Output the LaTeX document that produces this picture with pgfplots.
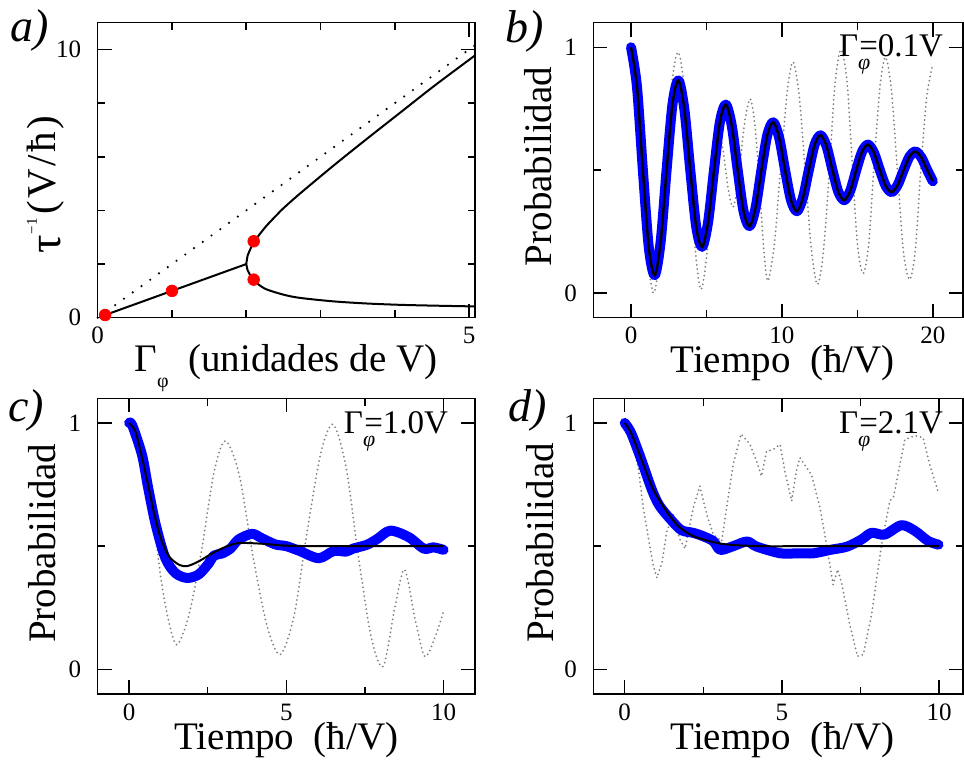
\documentclass[border=0pt]{standalone}
\usepackage{fontspec}
\setmainfont{Liberation Serif}
\usepackage{pgfplots}
\pgfplotsset{compat=1.18}

\pgfplotsset{
  panel/.style={
    scale only axis, anchor=north west, clip=false,
    axis line style={line width=0.75pt},
    tick align=inside,
    major tick length=7pt, minor tick length=3.75pt,
    every tick/.style={black, line width=0.75pt},
    tick label style={font=\fontsize{12.5}{13}\selectfont},
    /pgf/number format/assume math mode=true,
    yticklabel style={xshift=-4.7pt},
    xticklabel style={yshift=-1.3pt},
    label style={font=\fontsize{19.5}{20}\selectfont, anchor=base},
  },
  dots/.style={black!50, line width=1pt, dash pattern=on 0pt off 2.2pt, line cap=round},
  bluefat/.style={blue, line width=5pt, line cap=round, line join=round, smooth},
  thinblack/.style={black, line width=1.2pt, smooth},
}

% panel b: decaying oscillation
\pgfplotstableread{
t P
0.000 1.000
0.393 0.840
0.785 0.500
1.178 0.186
1.571 0.073
1.963 0.209
2.356 0.500
2.749 0.769
3.142 0.865
3.534 0.748
3.927 0.500
4.320 0.270
4.712 0.188
5.105 0.288
5.498 0.500
5.890 0.696
6.283 0.767
6.676 0.681
7.069 0.500
7.461 0.332
7.854 0.272
8.247 0.345
8.639 0.500
9.032 0.643
9.425 0.695
9.817 0.632
10.210 0.500
10.603 0.378
10.996 0.333
11.388 0.387
11.781 0.500
12.174 0.605
12.566 0.642
12.959 0.597
13.352 0.500
13.744 0.411
14.137 0.378
14.530 0.417
14.923 0.500
15.315 0.576
15.708 0.604
16.101 0.571
16.493 0.500
16.886 0.435
17.279 0.411
17.671 0.440
18.064 0.500
18.457 0.556
18.850 0.576
19.242 0.552
19.635 0.500
20.000 0.455
}\tabB

\pgfplotstableread{
t P
0.00 1.00
0.40 0.85
0.75 0.50
1.10 0.15
1.50 0.00
1.90 0.15
2.30 0.50
2.70 0.85
3.12 0.98
3.50 0.85
3.90 0.50
4.30 0.15
4.66 0.015
5.10 0.20
5.45 0.48
5.80 0.65
6.10 0.58
6.45 0.42
6.76 0.35
7.10 0.45
7.50 0.68
7.90 0.79
8.25 0.66
8.60 0.35
8.85 0.14
9.08 0.05
9.50 0.20
9.90 0.50
10.35 0.82
10.74 0.94
11.15 0.80
11.55 0.49
11.95 0.18
12.35 0.035
12.75 0.17
13.15 0.50
13.50 0.84
13.90 0.99
14.30 0.87
14.65 0.54
15.00 0.20
15.38 0.08
15.75 0.20
16.10 0.52
16.50 0.84
16.86 0.96
17.25 0.83
17.65 0.50
18.05 0.17
18.47 0.055
18.85 0.18
19.20 0.50
19.60 0.80
20.00 0.93
}\tabBdot

\begin{document}
\begin{tikzpicture}
\useasboundingbox (0,0) rectangle (482pt,-382.5pt);

% ---------- a) ----------
\begin{axis}[panel, at={(48.85pt,-11.35pt)}, width=188.65pt, height=147.5pt,
  xmin=0, xmax=5.08, ymin=0, ymax=11,
  xtick={0,5}, ytick={0,10}, minor x tick num=4, minor y tick num=4,
  xlabel={Γ\raisebox{-7.7pt}{\fontsize{10}{10}\selectfont φ}\ \ (unidades de V)},
  ylabel={\raisebox{-2.5pt}{\fontsize{23}{23}\selectfont τ}\kern0.3pt\raisebox{9.5pt}{\fontsize{7.5}{7.5}\selectfont −\kern0.5pt 1}\kern1.5pt{\fontsize{20.5}{21}\selectfont(\kern1.2pt V\kern1.2pt/\kern1.2pt ħ\kern1.2pt)}},
  xlabel style={at={(axis description cs:0.499,-0.183)}},
  ylabel style={at={(axis description cs:-0.111,0.45)}},
]
\addplot[black, line width=1.2pt, dash pattern=on 0pt off 5.4pt, line cap=round]
  coordinates {(0,0) (5.08,10.16)};
\addplot[black, line width=1pt] coordinates {(0.1,0.1) (2.0,2.0)};
\addplot[black, line width=1pt, line join=round, smooth] coordinates {
  (2.0,2.0) (2.02,2.33) (2.05,2.53) (2.1,2.80) (2.15,3.0) (2.2,3.18)
  (2.27,3.42) (2.4,3.8) (2.5,4.08) (2.72,4.62) (3.17,5.66) (3.62,6.66)
  (4.07,7.64) (4.52,8.62) (5.08,9.78)};
\addplot[black, line width=1pt, line join=round, smooth] coordinates {
  (2.0,2.0) (2.02,1.76) (2.05,1.60) (2.1,1.42) (2.16,1.25) (2.27,1.06)
  (2.5,0.86) (2.72,0.74) (3.17,0.61) (3.62,0.53) (4.07,0.48) (4.52,0.45)
  (5.08,0.42)};
\addplot[only marks, mark=*, mark size=2.9pt, color=red]
  coordinates {(0.1,0.1) (1.0,1.0) (2.1,2.85) (2.1,1.42)};
\end{axis}

% ---------- b) ----------
\begin{axis}[panel, at={(296.65pt,-11.35pt)}, width=184.85pt, height=147.5pt,
  xmin=-2.5, xmax=22, ymin=-0.1, ymax=1.1,
  xtick={0,10,20}, ytick={0,1}, minor x tick num=1, minor y tick num=1,
  xlabel={Tiempo\ \ (ħ/V)}, ylabel={Probabilidad},
  xlabel style={at={(axis description cs:0.512,-0.186)}},
  ylabel style={at={(axis description cs:-0.1125,0.5125)}},
]
\addplot[dots, smooth] table[x=t, y=P] {\tabBdot};
\addplot[bluefat] table[x=t, y=P] {\tabB};
\addplot[thinblack] table[x=t, y=P] {\tabB};
\node[anchor=base east, font=\fontsize{16.5}{17}\selectfont] at (rel axis cs:0.965,0.884)
  {Γ\rlap{\raisebox{-6.5pt}{\fontsize{11}{11}\selectfont\itshape φ}}\kern0.6pt=0.1V};
\end{axis}

% ---------- c) ----------
\begin{axis}[panel, at={(48.85pt,-199.15pt)}, width=188.65pt, height=147.85pt,
  xmin=-1, xmax=11, ymin=-0.1, ymax=1.1,
  xtick={0,5,10}, ytick={0,1}, minor x tick num=1, minor y tick num=1,
  xlabel={Tiempo\ \ (ħ/V)}, ylabel={Probabilidad},
  xlabel style={at={(axis description cs:0.50,-0.186)}},
  ylabel style={at={(axis description cs:-0.113,0.51)}},
]
\addplot[dots, smooth] coordinates {
  (0,1.0) (0.3,0.94) (0.63,0.76) (1.0,0.38) (1.25,0.2) (1.52,0.10) (1.9,0.22)
  (2.3,0.48) (2.7,0.8) (3.06,0.927) (3.5,0.79) (3.95,0.45) (4.4,0.17) (4.81,0.06)
  (5.25,0.22) (5.65,0.55) (6.1,0.88) (6.49,0.994) (6.9,0.82) (7.3,0.45) (7.7,0.13)
  (8.08,0.012) (8.45,0.25) (8.76,0.405) (9.1,0.2) (9.40,0.053) (9.7,0.12) (10.0,0.236)};
\addplot[bluefat] coordinates {
  (0,1.0) (0.1,0.99) (0.41,0.87) (0.6,0.74) (0.84,0.59) (1.15,0.452) (1.47,0.391)
  (1.84,0.371) (2.21,0.385) (2.53,0.43) (2.7,0.462) (2.95,0.47) (3.22,0.49)
  (3.48,0.527) (3.91,0.55) (4.22,0.532) (4.65,0.507) (5.0,0.50) (5.43,0.48)
  (6.03,0.451) (6.5,0.48) (6.9,0.478) (7.12,0.49) (7.57,0.506) (7.9,0.53)
  (8.31,0.563) (8.9,0.536) (9.37,0.49) (9.68,0.495) (10.0,0.485)};
\addplot[black, line width=1pt, smooth] coordinates {
  (0,1.0) (0.2,0.965) (0.41,0.86) (0.6,0.75) (0.8,0.63) (1.0,0.535) (1.26,0.46)
  (1.58,0.425) (1.84,0.419) (2.21,0.438) (2.74,0.478) (3.27,0.507) (3.6,0.513)
  (4.2,0.51) (5,0.502) (6,0.50) (7,0.50) (8,0.50) (9,0.50) (10,0.50)};
\node[anchor=base east, font=\fontsize{16.5}{17}\selectfont] at (rel axis cs:0.947,0.882)
  {Γ\rlap{\raisebox{-6.5pt}{\fontsize{11}{11}\selectfont\itshape φ}}\kern0.6pt=1.0V};
\end{axis}

% ---------- d) ----------
\begin{axis}[panel, at={(296.65pt,-199.15pt)}, width=184.85pt, height=147.85pt,
  xmin=-1, xmax=10.76, ymin=-0.1, ymax=1.1,
  xtick={0,5,10}, ytick={0,1}, minor x tick num=1, minor y tick num=1,
  xlabel={Tiempo\ \ (ħ/V)}, ylabel={Probabilidad},
  xlabel style={at={(axis description cs:0.512,-0.186)}},
  ylabel style={at={(axis description cs:-0.108,0.512)}},
]
\addplot[dots] coordinates {
  (0,1.0) (0.2,0.95) (0.43,0.818) (0.59,0.656) (0.75,0.534) (0.91,0.42) (1.02,0.371)
  (1.18,0.43) (1.34,0.56) (1.55,0.628) (1.74,0.53) (1.92,0.49) (2.18,0.656)
  (2.39,0.744) (2.61,0.628) (2.82,0.547) (3.08,0.52) (3.24,0.656) (3.45,0.832)
  (3.7,0.955) (3.98,0.914) (4.19,0.846) (4.35,0.784) (4.51,0.885) (4.72,0.892)
  (4.94,0.913) (5.1,0.8) (5.31,0.683) (5.45,0.8) (5.57,0.859) (5.94,0.79)
  (6.21,0.656) (6.42,0.506) (6.63,0.344) (6.77,0.405) (6.9,0.35) (7.16,0.181)
  (7.40,0.053) (7.59,0.06) (7.85,0.222) (8.17,0.506) (8.43,0.683) (8.55,0.70)
  (8.91,0.933) (9.23,0.948) (9.49,0.941) (9.70,0.832) (9.99,0.71)};
\addplot[bluefat] coordinates {
  (0,1.0) (0.2,0.96) (0.5,0.86) (0.86,0.73) (1.1,0.665) (1.45,0.61) (1.8,0.565)
  (2.18,0.554) (2.5,0.54) (2.82,0.52) (3.04,0.485) (3.45,0.50) (3.89,0.519)
  (4.2,0.498) (4.95,0.471) (5.5,0.471) (6.0,0.471) (6.54,0.485) (7.07,0.498)
  (7.53,0.527) (7.85,0.554) (8.27,0.547) (8.8,0.585) (9.23,0.562) (9.65,0.521)
  (9.98,0.506)};
\addplot[black, line width=1pt, smooth] coordinates {
  (0,1.0) (0.2,0.96) (0.49,0.866) (0.86,0.744) (1.12,0.683) (1.44,0.622)
  (1.76,0.575) (2.18,0.541) (2.71,0.52) (3.24,0.507) (4.3,0.5) (6,0.5) (8,0.5) (10,0.5)};
\node[anchor=base east, font=\fontsize{16.5}{17}\selectfont] at (rel axis cs:0.965,0.882)
  {Γ\rlap{\raisebox{-6.5pt}{\fontsize{11}{11}\selectfont\itshape φ}}\kern0.6pt=2.1V};
\end{axis}

% panel letters
\node[anchor=base west, font=\fontsize{23}{23}\selectfont\itshape, inner sep=0pt] at (5pt,-21pt) {a)};
\node[anchor=base west, font=\fontsize{23}{23}\selectfont\itshape, inner sep=0pt] at (252.5pt,-21.5pt) {b)};
\node[anchor=base west, font=\fontsize{23}{23}\selectfont\itshape, inner sep=0pt] at (4pt,-210.5pt) {c)};
\node[anchor=base west, font=\fontsize{23}{23}\selectfont\itshape, inner sep=0pt] at (254pt,-210.5pt) {d)};
\end{tikzpicture}
\end{document}
